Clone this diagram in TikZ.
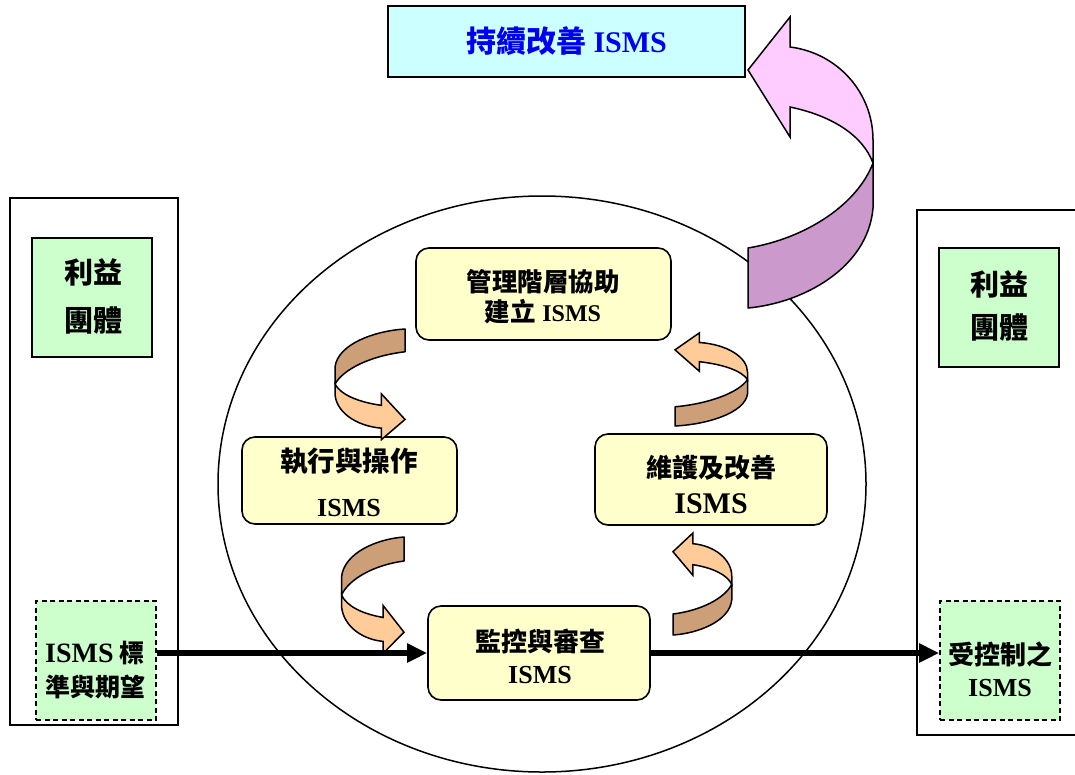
\documentclass[tikz,border=0pt]{standalone}
\usepackage{fontspec}
\setmainfont{Liberation Serif}
\newfontfamily\cjkfont{Noto Sans CJK TC}
\usetikzlibrary{arrows.meta}
\newcommand\zh[1]{{\cjkfont #1}}
\definecolor{cyanfill}{HTML}{CCFFFF}
\definecolor{greenfill}{HTML}{CCFFCC}
\definecolor{yellowfill}{HTML}{FFFFCC}
\definecolor{pinklight}{HTML}{FFCCFF}
\definecolor{pinkdark}{HTML}{CC99CC}
\definecolor{peachlight}{HTML}{FFCC99}
\definecolor{tandark}{HTML}{CC9F78}
\definecolor{titleblue}{HTML}{0000F0}
\newcommand\ribbonarrow[6]{%
  \begin{scope}[shift={(#1,#2)}, xscale=#3, yscale=#4]
    \filldraw[fill=#5, line width=1.5pt, line join=round]
      (0,0) .. controls (55,-5) and (120,-40) .. (125,-100) -- (125,-145)
      .. controls (110,-105) and (60,-70) .. (0,-60) -- cycle;
    \filldraw[fill=#6, line width=1.5pt, line join=miter]
      (125,-145) -- (125,-168) .. controls (125,-215) and (90,-255) .. (42,-261)
      -- (42,-291) -- (0,-238) -- (42,-171) -- (42,-201)
      .. controls (85,-192) and (115,-172) .. (125,-145) -- cycle;
  \end{scope}}
\tikzset{
  outerframe/.style={draw=black, line width=1.7pt},
  greenbox/.style={draw=black, line width=1.6pt, fill=greenfill, minimum width=120pt, minimum height=119pt, inner sep=0pt},
  dashbox/.style={greenbox, dash pattern=on 5pt off 3.5pt},
  procbox/.style={draw=black, line width=1.6pt, fill=yellowfill, rounded corners=13pt, inner sep=0pt},
  txt/.style={align=center, inner sep=0pt, font=\bfseries},
  flow/.style={line width=6pt, -{Triangle[length=20pt,width=18pt]}},
}
\begin{document}
\begin{tikzpicture}[x=1pt,y=-1pt]
\useasboundingbox (0,0) rectangle (1075,774);
\fill[white] (0,0) rectangle (1075,774);

% outer frames
\draw[outerframe] (10,198) rectangle (178,725);
\draw[outerframe] (1090,210) -- (917,210) -- (917,735) -- (1090,735);

% big cycle
\draw[line width=1.5pt] (542,484) ellipse [x radius=324pt, y radius=288pt];

% top box
\node[draw=black, line width=1.6pt, fill=cyanfill, minimum width=357pt, minimum height=71pt, inner sep=0pt,
      text=titleblue, font=\bfseries\fontsize{30}{36}\selectfont] (top) at (566.5,41.5) {\zh{持續改善} ISMS};

% big pink arrow
\ribbonarrow{748}{308}{1}{1}{pinkdark}{pinklight}

% left stakeholders
\node[greenbox] (lgrp) at (92,297.5) {};
\node[txt, font=\bfseries\fontsize{29}{48}\selectfont] (lgrpT) at (93,296) {\zh{利益}\\\zh{團體}};
\node[dashbox] (lstd) at (96,660.5) {};
\node[txt, font=\bfseries\fontsize{25}{34}\selectfont] (lstdT) at (95,670) {{\fontsize{28}{34}\selectfont ISMS} \zh{標}\\\zh{準與期望}};

% right stakeholders
\node[greenbox] (rgrp) at (999,307.5) {};
\node[txt, font=\bfseries\fontsize{29}{43}\selectfont] (rgrpT) at (999,306) {\zh{利益}\\\zh{團體}};
\node[dashbox] (rctl) at (1000,660.5) {};
\node[txt, font=\bfseries\fontsize{26}{32}\selectfont] (rctlT) at (1000,669) {\zh{受控制之}\\ISMS};

% process boxes
\node[procbox, minimum width=255pt, minimum height=92pt] (mgmt) at (543.5,294) {};
\node[txt, font=\bfseries\fontsize{25.5}{30}\selectfont] (mgmtT) at (543,297) {\zh{管理階層協助}\\\zh{建立} {\fontsize{24}{30}\selectfont ISMS}};
\node[procbox, minimum width=215pt, minimum height=87pt] (exec) at (349.5,480.5) {};
\node[txt, font=\bfseries\fontsize{27.5}{45}\selectfont] (execT) at (349,482) {\zh{執行與操作}\\{\fontsize{26}{45}\selectfont ISMS}};
\node[procbox, minimum width=232pt, minimum height=91pt] (maint) at (711,479.5) {};
\node[txt, font=\bfseries\fontsize{26}{36}\selectfont] (maintT) at (711,484) {\zh{維護及改善}\\{\fontsize{30}{36}\selectfont ISMS}};
\node[procbox, minimum width=222pt, minimum height=94pt] (mon) at (539,653) {};
\node[txt, font=\bfseries\fontsize{26}{32}\selectfont] (monT) at (540,656) {\zh{監控與審查}\\ISMS};

% small cycle arrows
\ribbonarrow{405}{329}{-0.56}{-0.38}{tandark}{peachlight}
\ribbonarrow{404}{537}{-0.5}{-0.40}{tandark}{peachlight}
\ribbonarrow{675}{426}{0.58}{0.32}{tandark}{peachlight}
\ribbonarrow{673}{635}{0.47}{0.35}{tandark}{peachlight}

% flows
\draw[flow] (lstd.east |- mon.west) -- (mon.west);
\draw[flow] (mon.east) -- (rctl.west |- mon.east);
\end{tikzpicture}
\end{document}
